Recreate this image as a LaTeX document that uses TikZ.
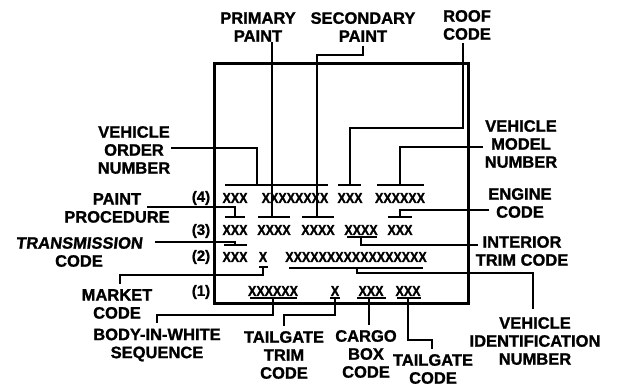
\documentclass[tikz,border=0pt]{standalone}
\usepackage{fontspec}
\setmainfont[BoldFeatures={FakeBold=1.2}]{Liberation Sans}
\newfontfamily\codefont[FakeStretch=0.86, BoldFont={Liberation Sans Bold}, BoldFeatures={FakeBold=1.5}]{Liberation Sans}
\newfontfamily\slantfont[FakeSlant=0.12, BoldFont={Liberation Sans Bold}, BoldFeatures={FakeBold=1.2}]{Liberation Sans}
\usetikzlibrary{calc}
\begin{document}
\begin{tikzpicture}[x=1pt,y=-1pt,
  lbl/.style={font=\bfseries\fontsize{16.5}{18}\selectfont, align=center, inner sep=0pt},
  code/.style={font=\codefont\bfseries\fontsize{14.5}{14.5}\selectfont, inner sep=0pt},
  rowlbl/.style={font=\bfseries\fontsize{15}{15}\selectfont, inner sep=0pt},
  leader/.style={line width=1.1pt},
  bar/.style={line width=1.6pt},
  frame/.style={draw, line width=3pt, inner sep=0pt}]
\fill[white] (0,0) rectangle (617,387);
\useasboundingbox (0,0) rectangle (617,387);

% plate
\node[frame, minimum width=254pt, minimum height=239pt] (plate) at (341,183.5) {};

% row labels
\node[rowlbl] (n4) at (201,198) {(4)};
\node[rowlbl] (n3) at (201,231) {(3)};
\node[rowlbl] (n2) at (201,257) {(2)};
\node[rowlbl] (n1) at (201,292) {(1)};

% codes
\node[code] (r4a) at (235,198) {XXX};
\node[code] (r4b) at (295,198) {XXXXXXXX};
\node[code] (r4c) at (350,198) {XXX};
\node[code] (r4d) at (400,198) {XXXXXX};
\node[code] (r3a) at (235,230) {XXX};
\node[code] (r3b) at (274,230) {XXXX};
\node[code] (r3c) at (318,230) {XXXX};
\node[code] (r3d) at (361,230) {XXXX};
\node[code] (r3e) at (400,230) {XXX};
\node[code] (r2a) at (235,257) {XXX};
\node[code] (r2b) at (263,257) {X};
\node[code] (r2c) at (356,257) {XXXXXXXXXXXXXXXXX};
\node[code] (r1a) at (273,291) {XXXXXX};
\node[code] (r1b) at (335,291) {X};
\node[code] (r1c) at (371,291) {XXX};
\node[code] (r1d) at (408,291) {XXX};

% bars
\draw[bar] (225,185) -- (328,185);
\draw[bar] (338,185) -- (361,185);
\draw[bar] (377,185) -- (424,185);
\draw[bar] (225,217) -- (245,217);
\draw[bar] (258,217) -- (290,217);
\draw[bar] (302,217) -- (334,217);
\draw[bar] (388,217) -- (412,217);
\draw[bar] (347,237) -- (377,237);
\draw[bar] (224,245) -- (247,245);
\draw[bar] (259,267) -- (268,267);
\draw[bar] (289,268) -- (423,268);
\draw[bar] (250,298) -- (297,298);
\draw[bar] (330,298) -- (340,298);
\draw[bar] (357,298) -- (386,298);
\draw[bar] (397,298) -- (421,298);

% leader ends on bars
\coordinate (o4a) at (257,185);
\coordinate (o4c) at (350,185);
\coordinate (o4d) at (400,185);
\coordinate (o3a) at (235,217);
\coordinate (o3b) at (272,217);
\coordinate (o3c) at (317,217);
\coordinate (o3d) at (361,237);
\coordinate (o3e) at (400,217);
\coordinate (o2a) at (235,245);
\coordinate (o2b) at (263,267);
\coordinate (o2c) at (357,268);
\coordinate (o1a) at (273,298);
\coordinate (o1b) at (335,298);
\coordinate (o1c) at (369,298);
\coordinate (o1d) at (408,298);
\coordinate (sp1) at (317,55);
\coordinate (rc1) at (463,128);

% labels
\node[lbl] (pp)  at (258,27)  {PRIMARY\\PAINT};
\node[lbl] (sp)  at (363,27)  {SECONDARY\\PAINT};
\node[lbl] (rc)  at (467,25)  {ROOF\\CODE};
\node[lbl] (von) at (134,150) {VEHICLE\\ORDER\\NUMBER};
\node[lbl] (ppr) at (117,208) {PAINT\\PROCEDURE};
\node[lbl] (tc)  at (79,252)  {{\slantfont\bfseries TRANSMISSION}\\CODE};
\node[lbl] (mc)  at (117,304) {MARKET\\CODE};
\node[lbl] (biw) at (157,345) {BODY-IN-WHITE\\SEQUENCE};
\node[lbl] (ttc) at (284,355) {TAILGATE\\TRIM\\CODE};
\node[lbl] (cbc) at (366,354) {CARGO\\BOX\\CODE};
\node[lbl] (tgc) at (433,369) {TAILGATE\\CODE};
\node[lbl] (vin) at (535,341) {VEHICLE\\IDENTIFICATION\\NUMBER};
\node[lbl] (vmn) at (521,144) {VEHICLE\\MODEL\\NUMBER};
\node[lbl] (ec)  at (520,203) {ENGINE\\CODE};
\node[lbl] (itc) at (522,251) {INTERIOR\\TRIM CODE};

% leaders
\draw[leader] ([xshift=1pt,yshift=2pt]von.east) -| (o4a);
\draw[leader] (pp.south -| o3b) -- (o3b);
\draw[leader] ([yshift=-4pt]sp.south) |- (sp1) -- (o3c);
\draw[leader] ([yshift=-3pt]rc.south -| rc1) -- (rc1) -| (o4c);
\draw[leader] ([xshift=-2pt,yshift=-3pt]vmn.west) -| (o4d);
\draw[leader] ($(ppr.center)+(30,-1)$) -| (o3a);
\draw[leader] ($(ec.west)+(1,7)$) -| (o3e);
\draw[leader] (o3d) |- ($(itc.west)+(2,-6)$);
\draw[leader] ($(tc.center)+(76,-10)$) -| (o2a);
\draw[leader] (o2b) -- ++(0,8) -| ([xshift=3pt,yshift=5pt]mc.north);
\draw[leader] (o2c) -- ++(0,5) -| ([xshift=-2pt,yshift=8pt]vin.north);
\draw[leader] (o1a) -- ++(0,17) -| ([yshift=5pt]biw.north);
\draw[leader] (o1b) -- ++(0,17) -| ([yshift=5pt]ttc.north);
\draw[leader] (o1c) -- ([yshift=5pt]cbc.north -| o1c);
\draw[leader] (o1d) -- ++(0,42) -| ([xshift=-1pt,yshift=5pt]tgc.north);
\end{tikzpicture}
\end{document}
